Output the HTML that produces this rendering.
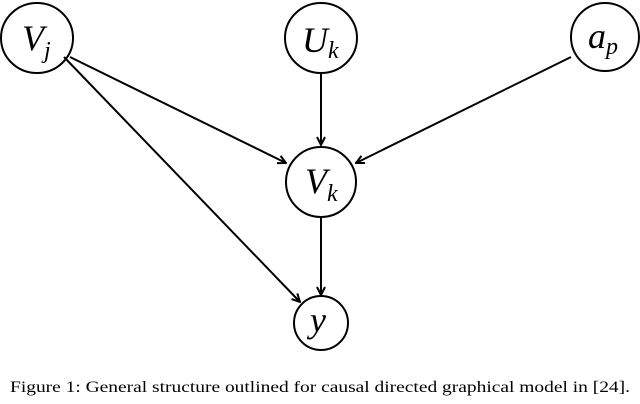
<!DOCTYPE html>
<html><head><style>html,body{margin:0;padding:0;background:#fff;}svg{display:block}</style></head>
<body>
<svg width="640" height="404" viewBox="0 0 640 404" xmlns="http://www.w3.org/2000/svg">
<defs>
<marker id="a" markerWidth="10" markerHeight="10" refX="9" refY="5" orient="auto" markerUnits="userSpaceOnUse">
<path d="M1,1 L9,5 L1,9" fill="none" stroke="#000" stroke-width="2"/>
</marker>
</defs>
<g fill="none" stroke="#000" stroke-width="2">
<ellipse cx="37" cy="38" rx="36" ry="35"/>
<ellipse cx="321" cy="38" rx="36" ry="35"/>
<ellipse cx="605" cy="37" rx="34" ry="34"/>
<ellipse cx="321" cy="182" rx="35" ry="35"/>
<ellipse cx="321" cy="323" rx="27" ry="27"/>
<line x1="70" y1="57" x2="286" y2="163" marker-end="url(#a)"/>
<line x1="64" y1="57" x2="300" y2="302" marker-end="url(#a)"/>
<line x1="321" y1="74" x2="321" y2="145" marker-end="url(#a)"/>
<line x1="571" y1="57" x2="356" y2="163" marker-end="url(#a)"/>
<line x1="321" y1="218" x2="321" y2="295" marker-end="url(#a)"/>
</g>
<g font-family="Liberation Serif, serif" font-style="italic" font-size="36" fill="#000">
<text x="22" y="50">V<tspan font-size="24" dy="8">j</tspan></text>
<text x="302" y="52">U<tspan font-size="24" dy="6">k</tspan></text>
<text x="588" y="48">a<tspan font-size="24" dy="6">p</tspan></text>
<text x="305" y="193">V<tspan font-size="24" dy="8">k</tspan></text>
<text x="310" y="332">y</text>
</g>
<text x="10" y="392" font-family="Liberation Serif, serif" font-size="16" textLength="620" lengthAdjust="spacingAndGlyphs">Figure 1: General structure outlined for causal directed graphical model in [24].</text>
</svg>
</body></html>
